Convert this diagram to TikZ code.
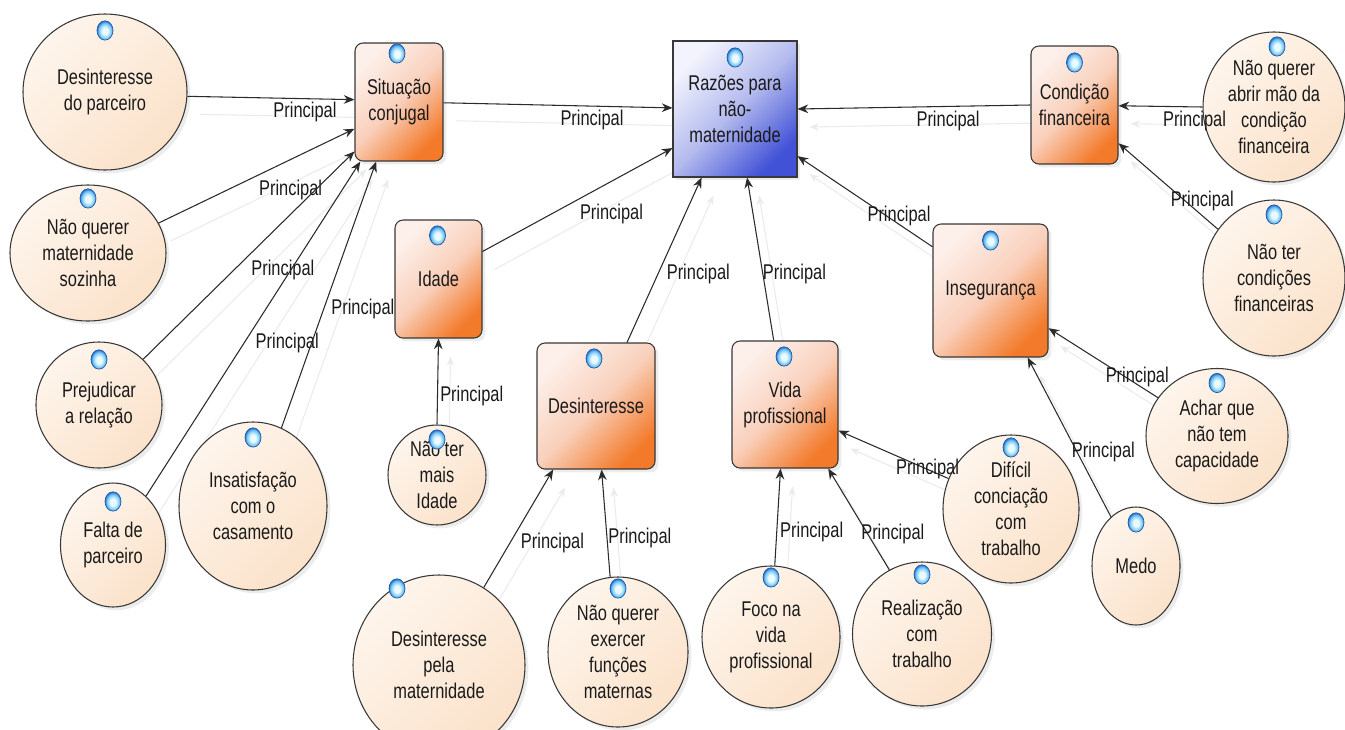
\documentclass[tikz,border=0pt]{standalone}
\usepackage{fontspec}
\setmainfont{Liberation Sans}[FakeStretch=0.77]
\usetikzlibrary{shapes.geometric,arrows.meta,shadows,backgrounds}

\definecolor{txt}{HTML}{1A1A1A}
\definecolor{rim}{HTML}{383838}
\definecolor{linha}{HTML}{2B2B2B}
\definecolor{boxlight}{HTML}{FDF0EA}
\definecolor{boxmid}{HTML}{F9D0BC}
\definecolor{boxdark}{HTML}{F37A2A}
\definecolor{razlight}{HTML}{F2F3FD}
\definecolor{razmid}{HTML}{B4BBEE}
\definecolor{razdark}{HTML}{4152D7}
\definecolor{circlight}{HTML}{FEF5EC}
\definecolor{circfill}{HTML}{FBE2CA}
\definecolor{dotin}{HTML}{EAFBFF}
\definecolor{dotmid}{HTML}{72C4F6}
\definecolor{dotout}{HTML}{2A78D6}

\pgfdeclareradialshading{bola}{\pgfpoint{0bp}{-2bp}}{color(0bp)=(dotin); color(9bp)=(dotin); color(20bp)=(dotmid); color(25bp)=(dotout); color(50bp)=(dotout)}

\tikzset{
  every node/.style={font=\fontsize{16}{19.5}\selectfont, text=txt},
  fator/.style={rectangle, rounded corners=6pt, draw=rim, line width=0.8pt,
    align=center, inner sep=0pt,
    top color=boxlight, bottom color=boxdark, middle color=boxmid, shading angle=45,
    drop shadow={shadow xshift=2.5pt, shadow yshift=-2.5pt, opacity=.15}},
  razao/.style={rectangle, draw=rim, line width=0.8pt, align=center, inner sep=0pt,
    top color=razlight, bottom color=razdark, middle color=razmid, shading angle=45,
    drop shadow={shadow xshift=2.5pt, shadow yshift=-2.5pt, opacity=.15}},
  causa/.style={ellipse, draw=rim, line width=0.8pt, align=center, inner sep=0pt,
    top color=circlight, bottom color=circfill, shading angle=45,
    drop shadow={shadow xshift=2.5pt, shadow yshift=-2.5pt, opacity=.15}},
  bdot/.style={ellipse, minimum width=12pt, minimum height=14.5pt, inner sep=0pt,
    shading=bola, draw=dotout!75!black, line width=0.5pt},
  liga/.style={draw=linha, line width=0.8pt, -{Stealth[length=8pt,width=6.5pt]}},
  fantasma/.style={draw=black!8, line width=0.8pt, -{Stealth[length=7pt,width=5.5pt]}},
  rot/.style={pos=.5, anchor=north west, inner xsep=1.5pt, inner ysep=3pt}
}

\begin{document}
\begin{tikzpicture}[x=0.75pt,y=-0.75pt]
\useasboundingbox (0,0) rectangle (1345,729);

% fatores
\node[razao, minimum width=93pt, minimum height=102pt] (raz) at (735,109) {Razões para\\não-\\maternidade};
\node[fator, minimum width=66pt, minimum height=88.5pt] (sit) at (399,102) {Situação\\conjugal};
\node[fator, minimum width=65.25pt, minimum height=88.5pt] (idade) at (438.5,279) {Idade};
\node[fator, minimum width=88.5pt, minimum height=94.5pt] (des) at (596,406) {Desinteresse};
\node[fator, minimum width=79.5pt, minimum height=95.25pt] (vida) at (785,404.5) {Vida\\profissional};
\node[fator, minimum width=86.25pt, minimum height=99.75pt] (inseg) at (990.5,290.5) {Insegurança};
\node[fator, minimum width=65.25pt, minimum height=88.5pt] (cond) at (1074.5,105) {Condição\\financeira};

% causas
\node[causa, minimum width=123pt, minimum height=117pt] (parc) at (105,92) {Desinteresse\\do parceiro};
\node[causa, minimum width=117pt, minimum height=102pt] (soz) at (88,253) {Não querer\\maternidade\\sozinha};
\node[causa, minimum width=94.5pt, minimum height=94.5pt] (prej) at (99,405) {Prejudicar\\a relação};
\node[causa, minimum width=78.75pt, minimum height=93pt] (falta) at (113,545) {Falta de\\parceiro};
\node[causa, minimum width=111pt, minimum height=126pt] (insat) at (253,506) {Insatisfação\\com o\\casamento};
\node[causa, minimum width=73.5pt, minimum height=75pt] (mais) at (437,475) {Não ter\\mais\\Idade};
\node[causa, minimum width=129pt, minimum height=135pt] (pela) at (439,665) {Desinteresse\\pela\\maternidade};
\node[causa, minimum width=105pt, minimum height=112.5pt] (exerc) at (618,652) {Não querer\\exercer\\funções\\maternas};
\node[causa, minimum width=103.5pt, minimum height=106.5pt] (foco) at (771,637) {Foco na\\vida\\profissional};
\node[causa, minimum width=104.25pt, minimum height=108pt] (realiz) at (922,634) {Realização\\com\\trabalho};
\node[causa, minimum width=102pt, minimum height=111pt] (dific) at (1011,509) {Difícil\\conciação\\com\\trabalho};
\node[causa, minimum width=66pt, minimum height=88.5pt] (medo) at (1136,566) {Medo};
\node[causa, minimum width=106.5pt, minimum height=101.25pt] (achar) at (1217,436) {Achar que\\não tem\\capacidade};
\node[causa, minimum width=106.5pt, minimum height=117pt] (condic) at (1274,278) {Não ter\\condições\\financeiras};
\node[causa, minimum width=106.5pt, minimum height=112.5pt] (abrir) at (1274,107) {Não querer\\abrir mão da\\condição\\financeira};

% ligacoes
\def\ligacoes{parc.-3/sit.177, soz.23/sit.-149, prej.46/sit.-132, falta.56/sit.-123,
  insat.70/sit.-111, sit.-1/raz.179, idade.32/raz.-148, mais.90/idade.-90,
  des.64/raz.-116, vida.100/raz.-80, inseg.143/raz.-37, cond.180/raz.0,
  abrir.180/cond.-1, condic.139/cond.-41, achar.147/inseg.-33, medo.117/inseg.-61,
  pela.60/des.-124, exerc.96/des.-85, foco.87/vida.-94, realiz.117/vida.-56,
  dific.154/vida.-26}

\begin{scope}[on background layer]
\foreach \a/\b in \ligacoes
  \draw[fantasma] ([shift={(12,18)}]\a) -- ([shift={(12,18)}]\b);
\end{scope}

\foreach \a/\b in \ligacoes
  \draw[liga] (\a) -- (\b) node[rot] {Principal};

% marcadores
\foreach \n/\dx/\dy in {parc/0/17, soz/0/14, prej/0/18, falta/0/19, insat/0/16,
    sit/-2/11, idade/-1/16, mais/0/15, raz/0/17, des/-2/16, pela/-42/14,
    exerc/0/12, vida/-1/16, foco/0/12, realiz/0/13, dific/0/13, medo/0/16,
    achar/0/15, inseg/0/17, condic/0/15, cond/0/17, abrir/3/15}
  \node[bdot] (dot-\n) at ([shift={(\dx,\dy)}]\n.north) {};

\end{tikzpicture}
\end{document}
